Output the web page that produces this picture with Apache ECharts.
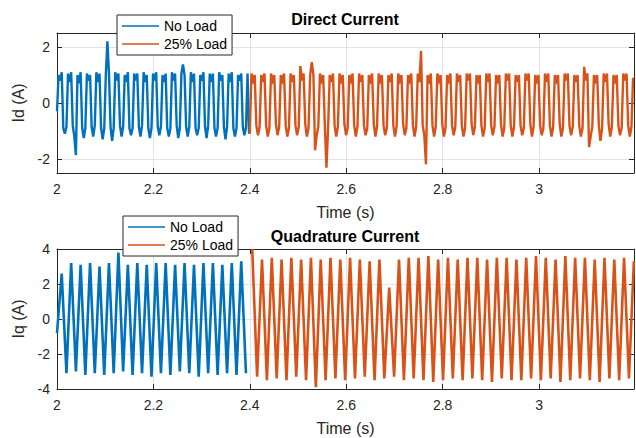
<!DOCTYPE html>
<html><head><meta charset="utf-8">
<script src="https://cdn.jsdelivr.net/npm/echarts@6/dist/echarts.min.js"></script>
<style>html,body{margin:0;padding:0;background:#fff}#c{width:636px;height:438px}</style>
</head><body><div id="c"></div>
<script>
// ---- data ----
const seriesNames = ['No Load', '25% Load'];
const xTicks = [2, 2.2, 2.4, 2.6, 2.8, 3];
const idTicks = [-2, 0, 2];
const iqTicks = [-4, -2, 0, 2, 4];

// Direct current, No Load (sampled from 2.0 s every idNoLoadStep s)
const idNoLoadStart = 2.0;
const idNoLoadStep = 0.0032667;
const idNoLoad = [
 -0.3, 1.0, 0.8, 1.1, -0.9, -1.1,
 -0.85, 1.05, 0.75, 1.1, -0.8, -1.2,
 -1.86, 1.0, 0.7, 1.1, -0.9, -1.25,
 -0.9, 1.05, 0.8, 1.0, -0.85, -1.2,
 -0.8, 1.1, 0.75, 1.05, -0.9, -1.3,
 -0.9, 1.0, 2.2, 1.05, -0.85, -1.35,
 -0.9, 1.1, 0.8, 1.05, -0.8, -1.2,
 -0.85, 1.0, 0.75, 1.1, -0.9, -1.15,
 -0.9, 1.05, 0.8, 1.05, -0.85, -1.2,
 -0.8, 1.1, 0.75, 1.0, -0.9, -1.25,
 -0.9, 1.05, 0.8, 1.1, -0.85, -1.15,
 -0.85, 1.0, 0.75, 1.05, -0.9, -1.2,
 -0.9, 1.1, 0.8, 1.05, -0.8, -1.25,
 -0.9, 1.05, 1.38, 1.0, -0.85, -1.2,
 -0.85, 1.1, 0.75, 1.05, -0.9, -1.15,
 -0.9, 1.0, 0.8, 1.1, -0.85, -1.25,
 -0.8, 1.05, 0.75, 1.05, -0.9, -1.2,
 -0.9, 1.1, 0.8, 1.0, -0.85, -1.3,
 -0.85, 1.05, 0.75, 1.1, -0.9, -1.2,
 -0.9, 1.0, 0.8, 1.05, -0.85, -1.15,
 -0.9, 1.05, -1.1
];

// Direct current, 25% Load
const idLoadStart = 2.4;
const idLoadStep = 0.0033833;
const idLoad = [
 -1.1, 1.05, 0.8, 1.0, -0.8, -1.15,
 -0.85, 1.0, 0.75, 1.05, -0.8, -1.2,
 -0.9, 1.05, 0.8, 1.0, -0.75, -1.15,
 -0.85, 1.0, 0.8, 1.05, -0.8, -1.2,
 -0.9, 1.05, 0.75, 1.0, -0.8, -1.15,
 -0.85, 1.32, 0.8, 1.05, -0.75, -1.2,
 -0.9, 1.0, 1.46, 1.0, -1.69, -1.15,
 -0.85, 1.05, 0.8, 1.0, -0.8, -2.31,
 -0.9, 1.0, 0.75, 1.05, -0.8, -1.2,
 -0.85, 1.05, 0.8, 1.0, -0.75, -1.15,
 -0.9, 1.0, 0.8, 1.05, -0.8, -1.2,
 -0.85, 1.05, 0.75, 1.0, -0.8, -1.15,
 -0.9, 1.0, 0.8, 1.05, -0.75, -1.2,
 -0.85, 1.05, 0.8, 1.0, -0.8, -1.15,
 -0.9, 1.0, 0.75, 1.05, -0.8, -1.2,
 -0.85, 1.05, 0.8, 1.0, -0.75, -1.15,
 -0.9, 1.0, 0.8, 1.05, -0.8, -1.2,
 -0.85, 1.05, 0.75, 1.86, -0.8, -1.15,
 -2.19, 1.0, 0.8, 1.05, -0.8, -1.2,
 -0.85, 1.05, 0.8, 1.0, -0.75, -1.2,
 -0.9, 1.0, 0.8, 1.05, -0.8, -1.15,
 -0.85, 1.05, 0.75, 1.0, -0.8, -1.2,
 -0.9, 1.05, 0.8, 1.05, -0.75, -1.15,
 -0.85, 1.0, 0.8, 1.0, -0.8, -1.2,
 -0.9, 1.05, 0.75, 1.05, -0.8, -1.15,
 -0.85, 1.0, 0.8, 1.0, -0.75, -1.2,
 -0.9, 1.05, 0.8, 1.05, -0.8, -1.2,
 -0.85, 1.0, 0.75, 1.0, -0.8, -1.15,
 -0.9, 1.05, 0.8, 1.05, -0.75, -1.2,
 -0.85, 1.0, 0.8, 1.0, -0.8, -1.15,
 -0.9, 1.05, 0.75, 1.05, -0.8, -1.2,
 -0.85, 1.0, 0.8, 1.0, -0.75, -1.2,
 -0.9, 1.05, 0.8, 1.05, -0.8, -1.15,
 -0.85, 1.0, 0.75, 1.0, -0.8, -1.2,
 -0.9, 1.29, 0.8, 1.05, -1.57, -1.2,
 -0.85, 1.0, 0.8, 1.0, -0.8, -1.35,
 -0.9, 1.05, 0.75, 1.05, -0.75, -1.2,
 -0.85, 1.0, 0.8, 1.0, -0.8, -1.15,
 -0.9, 1.05, 0.8, 1.05, -0.8, -1.2,
 -0.85, 0.9
];

// Quadrature current, No Load (successive extremes)
const iqNoLoadStart = 2.0;
const iqNoLoadStep = 0.0098;
const iqNoLoad = [
 -0.8, 2.6, -3.1, 3.2, -3.0, 3.1, -3.2, 3.2, -3.1, 3.0,
 -3.2, 3.2, -3.1, 3.8, -3.0, 3.1, -3.2, 3.2, -3.1, 3.1,
 -3.3, 3.2, -3.1, 3.2, -3.2, 3.1, -3.0, 3.2, -3.1, 3.1,
 -3.3, 3.2, -3.1, 3.2, -3.2, 3.1, -3.1, 3.2, -3.2, 3.3,
 -3.1
];

// Quadrature current, 25% Load (successive extremes)
const iqLoadStart = 2.405;
const iqLoadStep = 0.01015;
const iqLoad = [
 4.0, -3.3, 3.4, -3.5, 3.5, -3.4, 3.4, -3.5, 3.5, -3.3,
 3.4, -3.5, 3.5, -3.9, 3.4, -3.5, 3.5, -3.4, 3.4, -3.5,
 3.5, -3.4, 3.4, -3.3, 3.3, -3.5, 3.4, -3.4, 1.8, -3.3,
 3.4, -3.5, 3.5, -3.4, 3.5, -3.5, 3.6, -3.6, 3.4, -3.5,
 3.5, -3.4, 3.4, -3.5, 3.5, -3.4, 3.5, -3.5, 3.4, -3.6,
 3.5, -3.4, 3.5, -3.5, 3.4, -3.5, 3.5, -3.4, 3.6, -3.5,
 3.5, -3.4, 3.4, -3.6, 3.6, -3.5, 3.5, -3.4, 3.5, -3.5,
 3.4, -3.6, 3.5, -3.4, 3.4, -3.5, 3.5, -3.4, 3.3
];

// ---- chart ----
const BLUE = '#0072BD', ORANGE = '#D95319';
const FONT = 'Arial, "Liberation Sans", Helvetica, sans-serif';
const AX = '#262626', GRIDC = '#e3e3e3';
const XMIN = 2, XMAX = 3.197;

function toPairs(start, step, vals) { return vals.map((v, i) => [start + i * step, v]); }

function xAxes(gi) {
  return [
    { gridIndex: gi, type: 'value', min: XMIN, max: XMAX, position: 'bottom',
      name: 'Time (s)', nameLocation: 'middle', nameGap: 31,
      nameTextStyle: { fontSize: 16, color: AX, fontFamily: FONT },
      axisLine: { show: true, onZero: false, lineStyle: { color: AX, width: 1 } },
      axisTick: { show: true, inside: true, length: 5, customValues: xTicks, lineStyle: { color: AX } },
      axisLabel: { customValues: xTicks, fontSize: 14, color: AX, margin: 9, fontFamily: FONT },
      splitLine: { show: true, lineStyle: { color: GRIDC, width: 1 } } },
    { gridIndex: gi, type: 'value', min: XMIN, max: XMAX, position: 'top',
      axisLine: { show: true, onZero: false, lineStyle: { color: AX, width: 1 } },
      axisTick: { show: true, inside: true, length: 5, customValues: xTicks, lineStyle: { color: AX } },
      axisLabel: { show: false }, splitLine: { show: false } }
  ];
}
function yAxes(gi, mn, mx, ticks, nm) {
  return [
    { gridIndex: gi, type: 'value', min: mn, max: mx, position: 'left',
      name: nm, nameLocation: 'middle', nameGap: 27,
      nameTextStyle: { fontSize: 16, color: AX, fontFamily: FONT },
      axisLine: { show: true, onZero: false, lineStyle: { color: AX, width: 1 } },
      axisTick: { show: true, inside: true, length: 5, customValues: ticks, lineStyle: { color: AX } },
      axisLabel: { customValues: ticks, fontSize: 14, color: AX, margin: 7, fontFamily: FONT },
      splitLine: { show: true, lineStyle: { color: GRIDC, width: 1 } } },
    { gridIndex: gi, type: 'value', min: mn, max: mx, position: 'right',
      axisLine: { show: true, onZero: false, lineStyle: { color: AX, width: 1 } },
      axisTick: { show: true, inside: true, length: 5, customValues: ticks, lineStyle: { color: AX } },
      axisLabel: { show: false }, splitLine: { show: false } }
  ];
}
function line(name, xi, yi, data, color, w) {
  return { name, type: 'line', xAxisIndex: xi, yAxisIndex: yi, data, symbol: 'none', showSymbol: false,
    lineStyle: { color, width: w, join: 'miter' }, itemStyle: { color }, animation: false, z: 2, clip: true };
}
function legend(left, top) {
  return { data: seriesNames, orient: 'vertical', left, top, icon: 'rect', itemWidth: 37, itemHeight: 1.3,
    itemGap: 4, padding: [4, 5, 4, 5], backgroundColor: '#fff', borderColor: AX, borderWidth: 1,
    selectedMode: false, textStyle: { fontSize: 14, color: '#000', fontFamily: FONT } };
}

const chart = echarts.init(document.getElementById('c'), null, { renderer: 'svg' });
chart.setOption({
  animation: false,
  backgroundColor: '#fff',
  textStyle: { fontFamily: FONT },
  grid: [
    { left: 57, top: 33, width: 577, height: 140 },
    { left: 57, top: 249, width: 577, height: 140 }
  ],
  xAxis: [...xAxes(0), ...xAxes(1)],
  yAxis: [...yAxes(0, -2.5, 2.5, idTicks, 'Id (A)'), ...yAxes(1, -4, 4, iqTicks, 'Iq (A)')],
  legend: [legend(117, 15), legend(123, 216)],
  graphic: [
    { type: 'text', x: 345, y: 19, z: 10, style: { text: 'Direct Current', align: 'center', verticalAlign: 'middle', textAlign: 'center', textVerticalAlign: 'middle', font: 'bold 16px ' + FONT, fill: '#000' } },
    { type: 'text', x: 345, y: 236, z: 10, style: { text: 'Quadrature Current', align: 'center', verticalAlign: 'middle', textAlign: 'center', textVerticalAlign: 'middle', font: 'bold 16px ' + FONT, fill: '#000' } }
  ],
  series: [
    line(seriesNames[0], 0, 0, toPairs(idNoLoadStart, idNoLoadStep, idNoLoad), BLUE, 2.4),
    line(seriesNames[1], 0, 0, toPairs(idLoadStart, idLoadStep, idLoad), ORANGE, 2.4),
    line(seriesNames[0], 2, 2, toPairs(iqNoLoadStart, iqNoLoadStep, iqNoLoad), BLUE, 2.6),
    line(seriesNames[1], 2, 2, toPairs(iqLoadStart, iqLoadStep, iqLoad), ORANGE, 2.6)
  ]
});
</script></body></html>
